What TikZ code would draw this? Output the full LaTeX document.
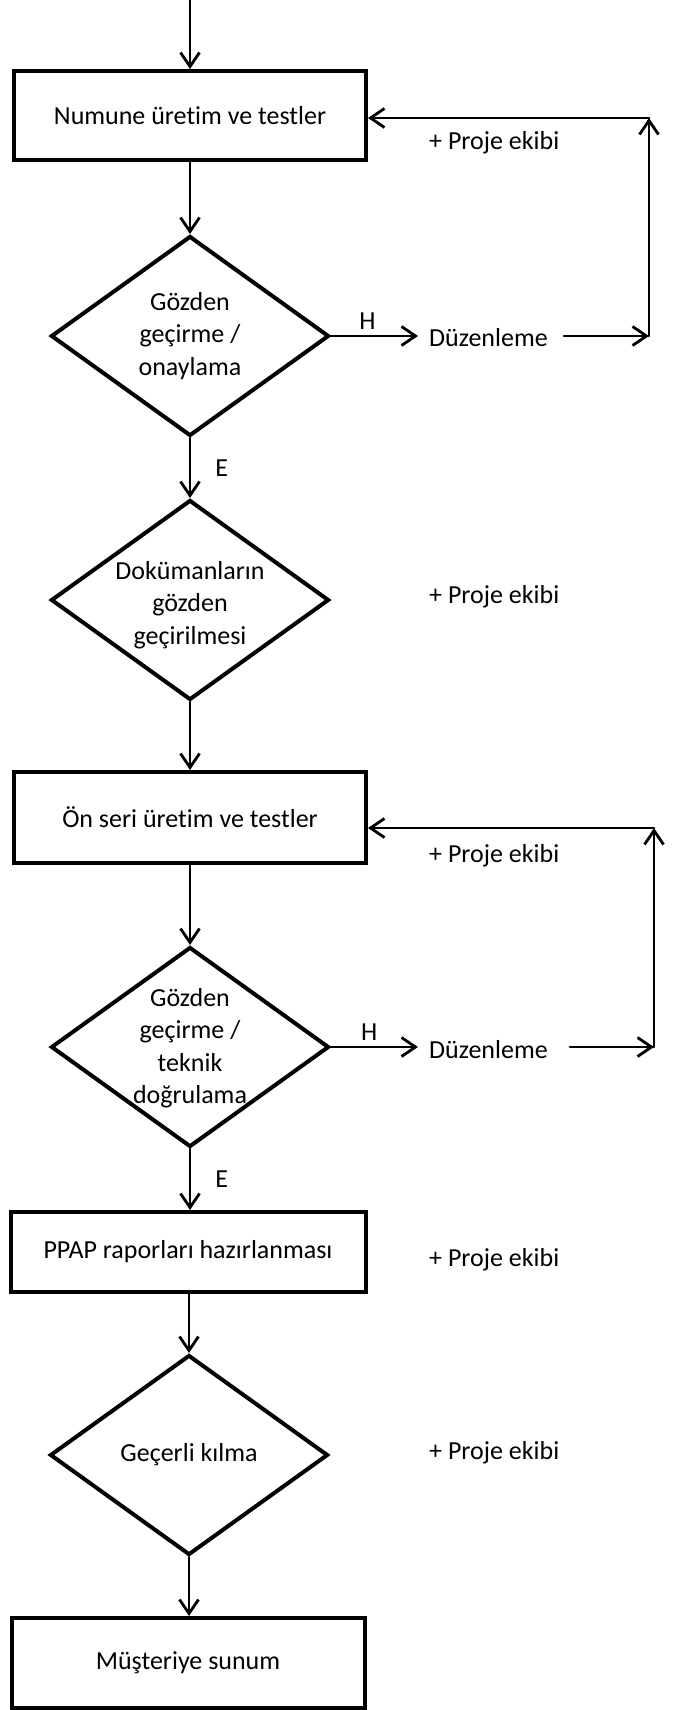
\documentclass[tikz,border=0pt]{standalone}
\usepackage{fontspec}
\setmainfont[Ligatures=NoCommon]{Carlito}
\usetikzlibrary{arrows.meta,shapes.geometric}
\newcommand\flowfont{\fontsize{26}{32.5}\selectfont}
\begin{document}
\begin{tikzpicture}[x=1pt,y=-1pt,
  box/.style={draw, line width=4pt, minimum width=352pt, inner sep=0pt, font=\flowfont},
  dia/.style={draw, shape=diamond, line width=4pt, inner sep=0pt, minimum width=278pt, minimum height=200pt},
  lbl/.style={font=\flowfont, align=center, inner sep=0pt},
  side/.style={font=\flowfont, anchor=west, inner sep=0pt},
  tag/.style={font=\flowfont, inner sep=2pt},
  arr/.style={line width=2.8pt, line cap=round, line join=round, -{Straight Barb[length=14pt,width=19pt]}},
  ]
\fill[white] (0,0) rectangle (673,1710);
\useasboundingbox (0,0) rectangle (673,1710);

% main column
\node[box, minimum height=89pt] (b1) at (190,115.5) {Numune üretim ve testler};
\node[dia] (d1) at (190,336) {};
\node[lbl] (t1) at (190,336) {Gözden\\geçirme /\\onaylama};
\node[dia] (d2) at (190,600) {};
\node[lbl] (t2) at (190,605) {Dokümanların\\gözden\\geçirilmesi};
\node[box, minimum height=91pt] (b2) at (190,817.5) {Ön seri üretim ve testler};
\node[dia] (d3) at (190,1047) {};
\node[lbl] (t3) at (190,1048) {Gözden\\geçirme /\\teknik\\doğrulama};
\node[box, minimum height=80pt, minimum width=355pt] (b3) at (188,1252) {PPAP raporları hazırlanması};
\node[dia] (d4) at (189,1455) {};
\node[lbl] (t4) at (189,1455) {Geçerli kılma};
\node[box, minimum height=90pt, minimum width=353pt] (b4) at (188,1663) {Müşteriye sunum};

% side texts
\node[side] (p1) at (429,143) {+ Proje ekibi};
\node[side] (p2) at (429,597) {+ Proje ekibi};
\node[side] (p3) at (429,856) {+ Proje ekibi};
\node[side] (p4) at (429,1260) {+ Proje ekibi};
\node[side] (p5) at (429,1453) {+ Proje ekibi};
\node[side] (z1) at (429,338) {Düzenleme};
\node[side] (z2) at (429,1050) {Düzenleme};

% helper coordinates
\coordinate (in) at (190,0);
\coordinate (r1b) at (649,336);
\coordinate (r1t) at (649,118);
\coordinate (r2b) at (654,1047);
\coordinate (r2t) at (654,828);

% main flow
\draw[arr] (in) -- (b1.north);
\draw[arr] (b1.south) -- (d1.north);
\draw[arr] (d1.south) -- node[tag, right=22pt, pos=0.5] (e1) {E} (d2.north);
\draw[arr] (d2.south) -- (b2.north);
\draw[arr] (b2.south) -- (d3.north);
\draw[arr] (d3.south) -- node[tag, right=22pt, pos=0.5] (e2) {E} (d3.south |- b3.north);
\draw[arr] (b3.south -| d4.north) -- (d4.north);
\draw[arr] (d4.south) -- (d4.south |- b4.north);

% loop 1
\draw[arr] (d1.east) -- node[tag, above=3pt, pos=0.42] (h1) {H} ([xshift=-11pt]d1.east -| z1.west);
\draw[arr] ([xshift=16pt]z1.east |- r1b) -- (r1b);
\draw[arr] (r1b) -- (r1t);
\draw[arr] (r1t) -- (r1t -| b1.east);

% loop 2
\draw[arr] (d3.east) -- node[tag, above=3pt, pos=0.44] (h2) {H} ([xshift=-11pt]d3.east -| z2.west);
\draw[arr] ([xshift=22pt]z2.east |- r2b) -- (r2b);
\draw[arr] (r2b) -- (r2t);
\draw[arr] (r2t) -- (r2t -| b2.east);
\end{tikzpicture}
\end{document}
